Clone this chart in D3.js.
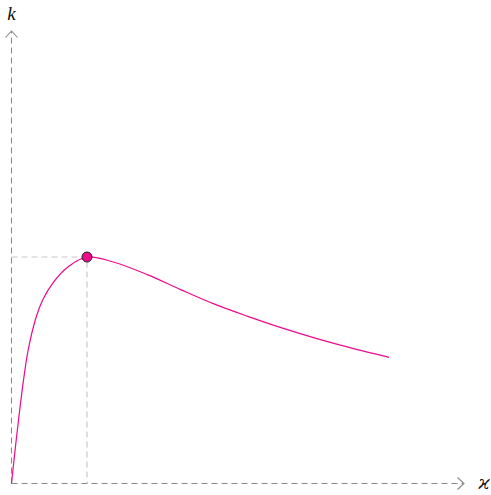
<!DOCTYPE html>
<html>
<head>
<meta charset="utf-8">
<script src="https://cdn.jsdelivr.net/npm/d3@7"></script>
<style>
  html, body { margin: 0; padding: 0; background: #fff; }
  svg { display: block; }
</style>
</head>
<body>
<svg width="491" height="495"></svg>
<script>
// curve (x in units of the peak position, k relative to the peak)
const kappa = [0, 0.047, 0.097, 0.153, 0.22, 0.327, 0.413, 0.547, 0.747, 1, 1.35, 1.8, 2.24, 2.68, 3.13, 3.57, 4.01, 4.47, 5.0];
const kValues = [0, 0.146, 0.292, 0.442, 0.588, 0.735, 0.81, 0.885, 0.956, 1, 0.978, 0.922, 0.856, 0.793, 0.738, 0.688, 0.643, 0.601, 0.557];
const peak = { x: 1, y: 1 };
const axisLabels = { x: "ϰ", y: "k" };

const svg = d3.select("svg");
const originX = 11.5;
const originY = 483.5;
const curveColor = "#ee0a8c";

const x = d3.scaleLinear().domain([0, 1]).range([originX, originX + 75.5]);
const y = d3.scaleLinear().domain([0, 1]).range([originY, originY - 226.5]);

// guide lines from the peak to both axes
svg.append("path")
    .attr("d", `M${originX},${y(peak.y)}H${x(peak.x)}V${originY}`)
    .attr("fill", "none")
    .attr("stroke", "#c8c8c8")
    .attr("stroke-width", 1.2)
    .attr("stroke-dasharray", "6,4");

// axes
const axisColor = "#8a8a8a";
svg.append("line")
    .attr("x1", originX).attr("y1", originY)
    .attr("x2", 463).attr("y2", originY)
    .attr("stroke", axisColor)
    .attr("stroke-width", 1.1)
    .attr("stroke-dasharray", "6,4");
svg.append("line")
    .attr("x1", originX).attr("y1", originY)
    .attr("x2", originX).attr("y2", 31)
    .attr("stroke", axisColor)
    .attr("stroke-width", 1.1)
    .attr("stroke-dasharray", "6,4");

// open arrow heads
svg.append("path")
    .attr("d", "M457.5,477.5L464,483.5L457.5,489.5")
    .attr("fill", "none")
    .attr("stroke", axisColor)
    .attr("stroke-width", 1.1);
svg.append("path")
    .attr("d", "M5.5,37.5L11.5,31L17.5,37.5")
    .attr("fill", "none")
    .attr("stroke", axisColor)
    .attr("stroke-width", 1.1);

// curve
const line = d3.line()
    .x((d, i) => x(kappa[i]))
    .y(d => y(d))
    .curve(d3.curveCatmullRom.alpha(0.5));

svg.append("path")
    .datum(kValues)
    .attr("d", line)
    .attr("fill", "none")
    .attr("stroke", curveColor)
    .attr("stroke-width", 1.2);

svg.append("circle")
    .attr("cx", x(peak.x))
    .attr("cy", y(peak.y))
    .attr("r", 5)
    .attr("fill", curveColor)
    .attr("stroke", "#222")
    .attr("stroke-width", 1);

// axis labels
svg.append("text")
    .attr("x", originX)
    .attr("y", 20)
    .attr("text-anchor", "middle")
    .attr("font-family", "'Liberation Serif', 'DejaVu Serif', serif")
    .attr("font-style", "italic")
    .attr("font-size", 19)
    .attr("fill", "#111")
    .text(axisLabels.y);

svg.append("text")
    .attr("x", 484)
    .attr("y", 489)
    .attr("text-anchor", "middle")
    .attr("font-family", "'DejaVu Serif', serif")
    .attr("font-style", "italic")
    .attr("font-size", 18)
    .attr("fill", "#111")
    .text(axisLabels.x);
</script>
</body>
</html>
